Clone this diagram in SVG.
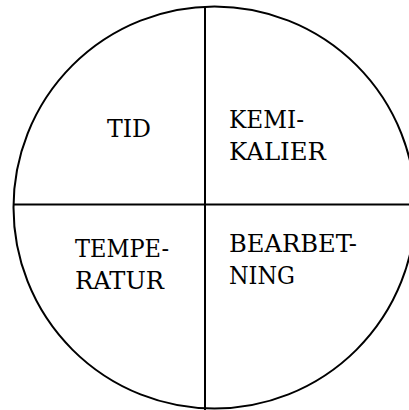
<svg xmlns="http://www.w3.org/2000/svg" width="409" height="410" viewBox="0 0 409 410">
<style>
.ln{fill:none;stroke:#000;stroke-width:2}
.t{font-family:"DejaVu Serif","Liberation Serif",serif;font-size:24px;fill:#000}
</style>
<rect width="409" height="410" fill="#fff"/>
<g id="connectors">
<circle class="ln" cx="214.5" cy="207.5" r="201"/>
<line class="ln" x1="205" y1="7" x2="205" y2="410"/>
<line class="ln" x1="13" y1="204.5" x2="409" y2="204.5"/>
</g>
<g id="tid"><text class="t" x="107" y="137" textLength="44" lengthAdjust="spacingAndGlyphs">TID</text></g>
<g id="kemikalier"><text class="t" x="229" y="128" textLength="75" lengthAdjust="spacingAndGlyphs">KEMI-</text><text class="t" x="229" y="160" textLength="97" lengthAdjust="spacingAndGlyphs">KALIER</text></g>
<g id="temperatur"><text class="t" x="75" y="256.5" textLength="94" lengthAdjust="spacingAndGlyphs">TEMPE-</text><text class="t" x="75" y="289" textLength="89" lengthAdjust="spacingAndGlyphs">RATUR</text></g>
<g id="bearbetning"><text class="t" x="229" y="252" textLength="128" lengthAdjust="spacingAndGlyphs">BEARBET-</text><text class="t" x="229" y="283.5" textLength="66" lengthAdjust="spacingAndGlyphs">NING</text></g>
</svg>
